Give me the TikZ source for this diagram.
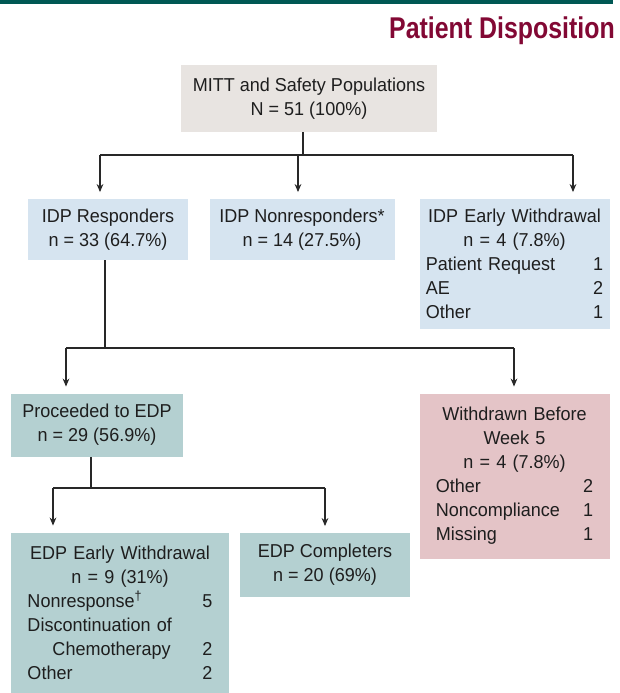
\documentclass[tikz,border=0pt]{standalone}
\usepackage{fontspec}
\setmainfont{Liberation Sans}[FakeStretch=0.965]
\newfontfamily\titlefont{Liberation Sans}[FakeStretch=0.83]
\usetikzlibrary{arrows.meta}
\definecolor{cbar}{RGB}{0,88,84}
\definecolor{ctitle}{RGB}{130,8,52}
\definecolor{cgrey}{RGB}{232,228,225}
\definecolor{cblue}{RGB}{214,228,240}
\definecolor{cteal}{RGB}{180,208,209}
\definecolor{cpink}{RGB}{228,196,199}
\definecolor{cline}{RGB}{40,40,40}
\definecolor{ctext}{RGB}{30,30,30}
\begin{document}
\begin{tikzpicture}[x=0.75pt,y=-0.75pt,
  font=\fontsize{14}{18}\selectfont,
  box/.style={inner sep=0pt, align=center, text=ctext},
  conn/.style={draw=cline, line width=0.9pt},
  arr/.style={conn, -{Stealth[length=6pt,width=5pt]}, shorten >=5pt}]
\useasboundingbox (0,0) rectangle (619,693);
\fill[cbar] (0,0) rectangle (613,4);
\node[anchor=base east, inner sep=0pt, text=ctitle, font=\titlefont\bfseries\fontsize{22.5}{26}\selectfont] (title) at (615,38) {Patient Disposition};

\node[box, fill=cgrey, minimum width=192pt, minimum height=50.25pt] (mitt) at (309,98.5)
  {MITT and Safety Populations\\N = 51 (100\%)};
\node[box, fill=cblue, minimum width=120pt, minimum height=45.75pt] (resp) at (108,229.5)
  {IDP Responders\\n = 33 (64.7\%)};
\node[box, fill=cblue, minimum width=138.75pt, minimum height=45.75pt] (nonresp) at (302,229.5)
  {IDP Nonresponders*\\n = 14 (27.5\%)};
\node[box, fill=cblue, text width=133pt, minimum width=142.5pt, minimum height=97.5pt] (idpew) at (514.5,264)
  {IDP Early Withdrawal\\n = 4 (7.8\%)\\Patient Request\hfill 1\\AE\hfill 2\\Other\hfill 1};
\node[box, fill=cteal, minimum width=129pt, minimum height=47.25pt] (proc) at (97,425)
  {Proceeded to EDP\\n = 29 (56.9\%)};
\node[box, fill=cpink, text width=118pt, minimum width=142.5pt, minimum height=123.75pt] (wd) at (514.5,476)
  {Withdrawn Before\\Week 5\\n = 4 (7.8\%)\\Other\hfill 2\\Noncompliance\hfill 1\\Missing\hfill 1};
\node[box, fill=cteal, text width=138.75pt, minimum width=163.5pt, minimum height=120.75pt] (edpew) at (120,613)
  {EDP Early Withdrawal\\n = 9 (31\%)\\Nonresponse\textsuperscript{†}\hfill 5\\Discontinuation of\hfill\mbox{}\\\hspace*{18.75pt}Chemotherapy\hfill 2\\Other\hfill 2};
\node[box, fill=cteal, minimum width=127.5pt, minimum height=48pt] (comp) at (325,565)
  {EDP Completers\\n = 20 (69\%)};

% level 1
\coordinate (j1) at (303,155);
\coordinate (h1l) at (100,155);
\coordinate (h1m) at (298,155);
\coordinate (h1r) at (573,155);
\draw[conn] (mitt.south -| j1) -- (j1);
\draw[conn] (h1l) -- (h1r);
\draw[arr] (h1l) -- (h1l |- resp.north);
\draw[arr] (h1m) -- (h1m |- nonresp.north);
\draw[arr] (h1r) -- (h1r |- idpew.north);
% level 2
\coordinate (j2) at (105,348);
\coordinate (h2l) at (66,348);
\coordinate (h2r) at (514,348);
\draw[conn] (resp.south -| j2) -- (j2);
\draw[conn] (h2l) -- (h2r);
\draw[arr] (h2l) -- (h2l |- proc.north);
\draw[arr] (h2r) -- (h2r |- wd.north);
% level 3
\coordinate (j3) at (91,488);
\coordinate (h3l) at (53,488);
\coordinate (h3r) at (325,488);
\draw[conn] (proc.south -| j3) -- (j3);
\draw[conn] (h3l) -- (h3r);
\draw[arr] (h3l) -- (h3l |- edpew.north);
\draw[arr] (h3r) -- (h3r |- comp.north);
\end{tikzpicture}
\end{document}
